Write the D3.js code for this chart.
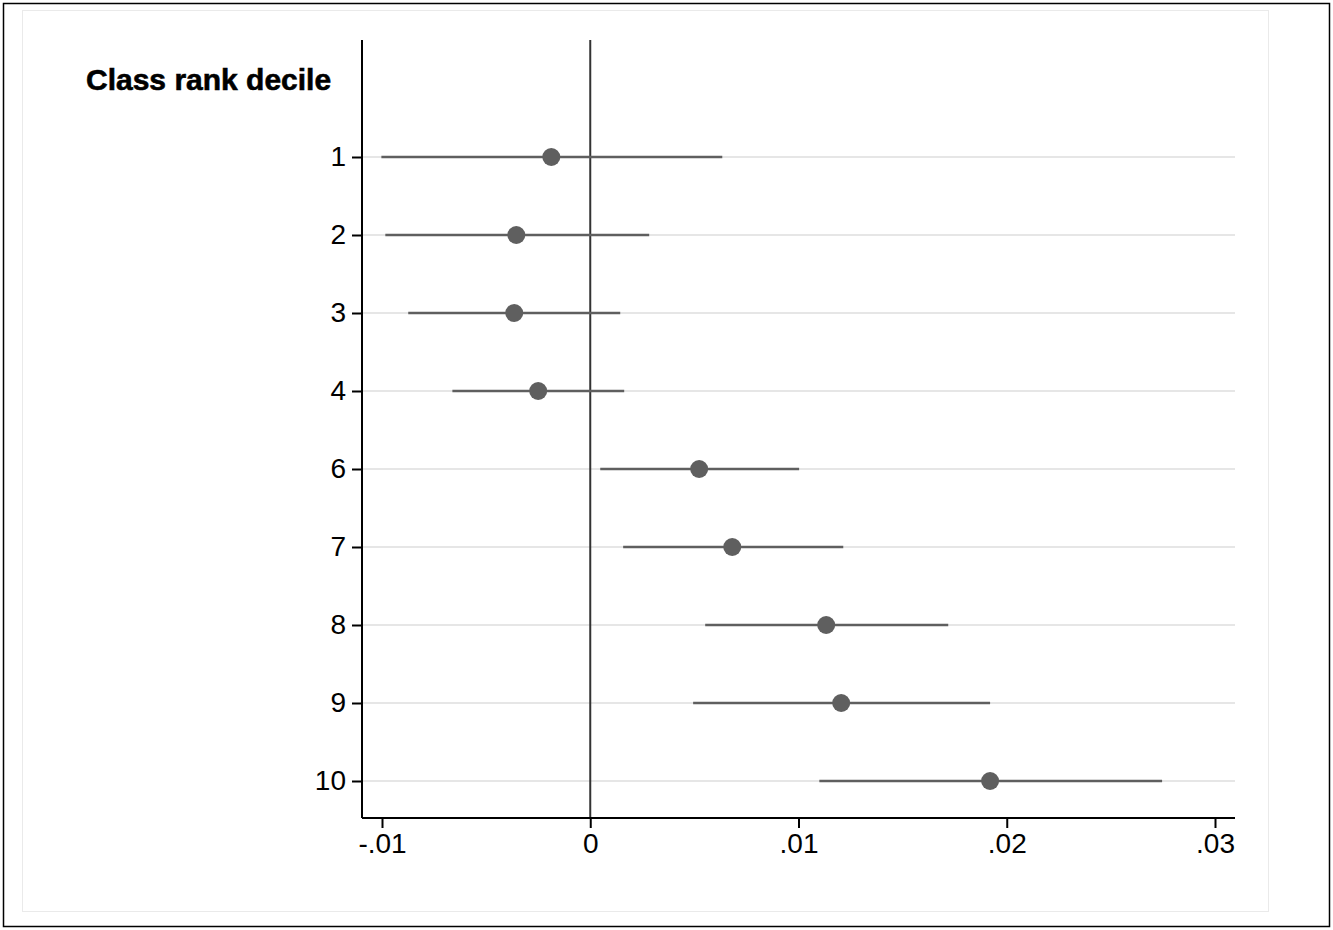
<!DOCTYPE html>
<html><head><meta charset="utf-8">
<script src="https://cdn.jsdelivr.net/npm/d3@7"></script>
<style>body{margin:0;background:#fff;}</style>
</head><body>
<svg id="chart" width="1333" height="930"></svg>
<script>
var deciles=["1","2","3","4","6","7","8","9","10"];
var est=[-.00187,-.00355,-.00365,-.0025,.00523,.00682,.01133,.01205,.0192];
var lo=[-.01003,-.00984,-.00874,-.00662,.00048,.00158,.00552,.00494,.011];
var hi=[.00634,.00283,.00144,.00163,.01003,.01215,.01719,.0192,.02746];
var xTicks=[-.01,0,.01,.02,.03];
var xLabels=["-.01","0",".01",".02",".03"];

var svg=d3.select("#chart");
svg.append("rect").attr("x",3.5).attr("y",3.5).attr("width",1326).attr("height",923)
   .attr("fill","#fff").attr("stroke","#000").attr("stroke-width",1.5);
svg.append("rect").attr("x",22.5).attr("y",10.5).attr("width",1246).attr("height",901)
   .attr("fill","none").attr("stroke","#eaeaea");

var x=d3.scaleLinear().domain([-.01,.03]).range([382,1215]);
var y=d3.scalePoint().domain(deciles).range([157,781]);
var pLeft=362,pRight=1235,pTop=40,pBottom=818;

svg.selectAll(".grid").data(deciles).enter().append("line")
   .attr("x1",pLeft).attr("x2",pRight).attr("y1",d=>y(d)).attr("y2",d=>y(d))
   .attr("stroke","#e6e6e6").attr("stroke-width",2);

svg.append("line").attr("x1",x(0)).attr("x2",x(0)).attr("y1",pTop).attr("y2",pBottom)
   .attr("stroke","#333").attr("stroke-width",2);

var xAxis=svg.append("g").attr("transform","translate(0,"+pBottom+")")
   .call(d3.axisBottom(x).tickValues(xTicks).tickFormat((d,i)=>xLabels[i]).tickSize(10).tickSizeOuter(0));
xAxis.select(".domain").attr("d","M"+pLeft+",0H"+pRight).attr("stroke","#000").attr("stroke-width",2);
var yAxis=svg.append("g").attr("transform","translate("+pLeft+",0)")
   .call(d3.axisLeft(y).tickSize(10).tickPadding(6));
yAxis.select(".domain").attr("d","M0,"+pTop+"V"+pBottom).attr("stroke","#000").attr("stroke-width",2);
svg.selectAll(".tick line").attr("stroke","#000").attr("stroke-width",2);
svg.selectAll(".tick text").attr("font-family","Liberation Sans, Arial, sans-serif")
   .attr("font-size",28).attr("fill","#000");
xAxis.selectAll(".tick text").attr("dy","0.8em");

svg.selectAll(".ci").data(deciles).enter().append("line")
   .attr("x1",(d,i)=>x(lo[i])).attr("x2",(d,i)=>x(hi[i]))
   .attr("y1",d=>y(d)).attr("y2",d=>y(d))
   .attr("stroke","#5f5f5f").attr("stroke-width",2.5);
svg.selectAll(".pt").data(deciles).enter().append("circle")
   .attr("cx",(d,i)=>x(est[i])).attr("cy",d=>y(d)).attr("r",9)
   .attr("fill","#5f5f5f");

svg.append("text").attr("x",86).attr("y",90).text("Class rank decile")
   .attr("font-family","Liberation Sans, Arial, sans-serif").attr("font-weight","bold")
   .attr("font-size",30).attr("fill","#000").attr("stroke","#000").attr("stroke-width",0.6);
</script>
</body></html>
